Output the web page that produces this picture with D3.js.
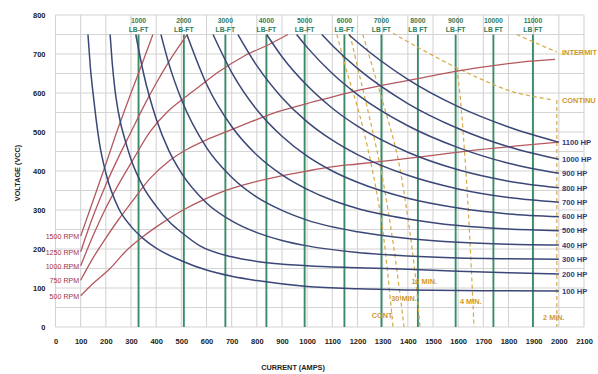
<!DOCTYPE html>
<html><head><meta charset="utf-8">
<script src="https://cdn.jsdelivr.net/npm/d3@7"></script>
<style>
body{margin:0;background:#fff;}
svg{display:block;overflow:hidden;}
text{font-family:"Liberation Sans",Arial,sans-serif;}
</style></head><body>
<svg id="c" width="598" height="374"></svg>
<script>
// ---------- data ----------
const xTicks = [0,100,200,300,400,500,600,700,800,900,1000,1100,1200,1300,1400,1500,1600,1700,1800,1900,2000,2100];
const yTicks = [0,100,200,300,400,500,600,700,800];

const torqueLabels = ["1000","2000","3000","4000","5000","6000","7000","8000","9000","10000","11000"];
const torqueUnits  = ["LB-FT","LB-FT","LB-FT","LB-FT","LB-FT","LB-FT","LB FT","LB FT","LB-FT","LB FT","LB FT"];
const torqueAmps   = [330,510,675,838,990,1148,1295,1440,1590,1740,1897];

const hpLabels = ["100 HP","200 HP","300 HP","400 HP","500 HP","600 HP","700 HP","800 HP","900 HP","1000 HP","1100 HP"];
const hp100  = [[129,750],[138,670],[150,595],[175,470],[200,395],[250,305],[300,258],[350,226],[400,202],[500,170],[600,146],[700,130],[800,119],[1000,104],[1200,98],[1400,95],[1700,93],[2000,92]];
const hp200  = [[217,750],[225,680],[236,610],[250,550],[283,465],[300,430],[348,360],[400,310],[455,268],[500,243],[574,208],[700,180],[800,168],[1000,157],[1200,152],[1400,148],[1600,143],[1800,139],[2000,136]];
const hp300  = [[319,750],[350,650],[400,534],[450,453],[500,395],[600,318],[700,272],[800,242],[900,222],[1000,208],[1200,191],[1400,182],[1600,177],[1800,175],[2000,174]];
const hp400  = [[419,750],[450,676],[500,584],[600,460],[700,384],[800,333],[900,299],[1000,274],[1200,244],[1400,227],[1600,217],[1800,212],[2000,210]];
const hp500  = [[522,750],[600,623],[700,514],[800,441],[900,390],[1000,353],[1100,325],[1200,304],[1400,277],[1600,260],[1800,251],[2000,247]];
const hp600  = [[626,750],[700,653],[800,557],[900,489],[1000,438],[1100,400],[1200,371],[1400,330],[1600,305],[1800,290],[2000,283]];
const hp700  = [[725,750],[800,670],[900,588],[1000,526],[1100,479],[1200,442],[1400,389],[1600,354],[1800,332],[2000,320]];
const hp800  = [[839,750],[900,693],[1000,619],[1100,561],[1200,515],[1400,448],[1600,403],[1800,374],[2000,357]];
const hp900  = [[958,750],[1000,717],[1100,650],[1200,596],[1400,516],[1600,460],[1800,420],[2000,394]];
const hp1000 = [[1058,750],[1100,722],[1200,663],[1400,573],[1600,509],[1800,462],[2000,430]];
const hp1100 = [[1165,750],[1200,730],[1400,635],[1600,565],[1800,513],[2000,474]];
const hpCurves = [hp100,hp200,hp300,hp400,hp500,hp600,hp700,hp800,hp900,hp1000,hp1100];

const rpmLabels = ["1500 RPM","1250 RPM","1000 RPM","750 RPM","500 RPM"];
const rpm1500 = [[100,233],[150,325],[200,418],[250,512],[300,600],[350,685],[387,750]];
const rpm1250 = [[100,193],[150,285],[200,365],[250,435],[300,500],[350,565],[400,625],[450,680],[523,750]];
const rpm1000 = [[100,157],[150,235],[200,305],[250,365],[300,420],[376,501],[450,555],[507,585],[574,618],[650,655],[750,695],[850,725],[924,750]];
const rpm750  = [[100,120],[150,178],[200,228],[250,275],[300,318],[376,381],[450,425],[521,455],[600,480],[680,501],[780,527],[864,548],[1000,573],[1090,588],[1190,605],[1300,620],[1409,633],[1600,657],[1726,669],[1850,679],[1985,686]];
const rpm500  = [[100,80],[150,112],[217,150],[280,195],[348,232],[420,265],[507,300],[600,330],[680,351],[780,370],[879,385],[1000,400],[1090,410],[1200,418],[1341,428],[1500,440],[1686,455],[1845,465],[2000,474]];
const rpmCurves = [rpm1500,rpm1250,rpm1000,rpm750,rpm500];

const dutyLabels = ["CONT.","30 MIN.","12 MIN.","4 MIN.","2 MIN."];
const dutyCont  = [[1118,750],[1160,650],[1210,540],[1260,400],[1300,250],[1341,0]];
const duty30    = [[1170,750],[1210,640],[1250,531],[1300,380],[1345,200],[1385,0]];
const duty12    = [[1221,750],[1290,600],[1356,446],[1400,280],[1430,130],[1448,0]];
const duty4     = [[1595,664],[1608,591],[1633,377],[1650,180],[1663,0]];
const duty2     = [[1992,582],[1992,0]];
const dutyLines = [dutyCont,duty30,duty12,duty4,duty2];
const dutyLabelPos = [[1300,30],[1385,72],[1465,117],[1650,65],[1980,25]];

const envLabels = ["INTERMIT","CONTINU"];
const envIntermittent = [[1833,750],[1920,725],[1992,705]];
const envContinuous   = [[1341,753],[1437,718],[1596,664],[1700,633],[1818,603],[1977,582]];

// ---------- drawing ----------
const svg = d3.select("#c");
const x = d3.scaleLinear().domain([0,2100]).range([55.5,584]);
const y = d3.scaleLinear().domain([0,800]).range([327,15]);

const NAVY="#3b4777", RED="#b4585f", GREEN="#3a8c68", GOLD="#d6aa45";

// grid
const grid = svg.append("g");
grid.selectAll("line.h").data(d3.range(0,801,50)).join("line")
  .attr("x1",x(0)).attr("x2",x(2100)).attr("y1",d=>y(d)).attr("y2",d=>y(d))
  .attr("stroke","#d4d4d4").attr("stroke-width",1.1);
grid.selectAll("line.v").data(xTicks).join("line")
  .attr("x1",d=>x(d)).attr("x2",d=>x(d)).attr("y1",y(0)).attr("y2",y(800))
  .attr("stroke","#d4d4d4").attr("stroke-width",1.1);

// axes
const ax = svg.append("g").attr("transform",`translate(0,${y(0)})`)
  .call(d3.axisBottom(x).tickValues(xTicks).tickSize(0).tickPadding(12).tickFormat(d3.format("d")));
const ay = svg.append("g").attr("transform",`translate(${x(0)},0)`)
  .call(d3.axisLeft(y).tickValues(yTicks).tickSize(0).tickPadding(10).tickFormat(d3.format("d")));
[ax,ay].forEach(g=>{
  g.select(".domain").remove();
  g.selectAll("text").attr("font-size",7.5).attr("font-weight","bold").attr("fill","#222")
   .attr("font-family","'Liberation Sans',Arial,sans-serif");
});

svg.append("text").attr("x",293).attr("y",370).attr("text-anchor","middle")
  .attr("font-size",7.3).attr("font-weight","bold").attr("fill","#222").text("CURRENT (AMPS)");
svg.append("text").attr("transform","translate(20,173) rotate(-90)").attr("text-anchor","middle")
  .attr("font-size",7.3).attr("font-weight","bold").attr("fill","#222").text("VOLTAGE (VCC)");

const line = d3.line().x(d=>x(d[0])).y(d=>y(d[1])).curve(d3.curveMonotoneX);
const lineC = d3.line().x(d=>x(d[0])).y(d=>y(d[1])).curve(d3.curveCatmullRom);

// torque lines
svg.selectAll("line.tq").data(torqueAmps).join("line")
  .attr("x1",d=>x(d)).attr("x2",d=>x(d)).attr("y1",y(0)).attr("y2",y(750))
  .attr("stroke",GREEN).attr("stroke-width",1.9);
svg.selectAll("text.tq1").data(torqueAmps).join("text")
  .attr("x",d=>x(d)).attr("y",23.3).attr("text-anchor","middle")
  .attr("font-size",6.8).attr("font-weight","bold").attr("fill","#2f7d5c")
  .text((d,i)=>torqueLabels[i]);
svg.selectAll("text.tq2").data(torqueAmps).join("text")
  .attr("x",d=>x(d)).attr("y",31.8).attr("text-anchor","middle")
  .attr("font-size",6.8).attr("font-weight","bold").attr("fill","#2f7d5c")
  .text((d,i)=>torqueUnits[i]);

// duty (gold dashed)
svg.selectAll("path.duty").data(dutyLines).join("path")
  .attr("d",lineC).attr("fill","none").attr("stroke",GOLD).attr("stroke-width",1.2)
  .attr("stroke-dasharray","4,3");
svg.append("path").attr("d",lineC(envIntermittent)).attr("fill","none").attr("stroke",GOLD)
  .attr("stroke-width",1.2).attr("stroke-dasharray","4,3");
svg.append("path").attr("d",lineC(envContinuous)).attr("fill","none").attr("stroke",GOLD)
  .attr("stroke-width",1.2).attr("stroke-dasharray","4,3");
svg.selectAll("text.duty").data(dutyLabelPos).join("text")
  .attr("x",d=>x(d[0])).attr("y",d=>y(d[1])+2.5).attr("text-anchor","middle")
  .attr("font-size",7.3).attr("font-weight","bold").attr("fill","#d09a2a")
  .text((d,i)=>dutyLabels[i]);
svg.append("text").attr("x",562).attr("y",y(705)+2.5).attr("font-size",7.4).attr("font-weight","bold")
  .attr("fill","#d09a2a").text(envLabels[0]);
svg.append("text").attr("x",562).attr("y",y(582)+2.5).attr("font-size",7.4).attr("font-weight","bold")
  .attr("fill","#d09a2a").text(envLabels[1]);

// rpm curves
svg.selectAll("path.rpm").data(rpmCurves).join("path")
  .attr("d",line).attr("fill","none").attr("stroke",RED).attr("stroke-width",1.3);
svg.selectAll("text.rpm").data(rpmCurves).join("text")
  .attr("x",d=>x(d[0][0])-1.5).attr("y",d=>y(d[0][1])+2.8).attr("text-anchor","end")
  .attr("font-size",7.1).attr("fill","#a8323e")
  .text((d,i)=>rpmLabels[i]);

// hp curves
svg.selectAll("path.hp").data(hpCurves).join("path")
  .attr("d",line).attr("fill","none").attr("stroke",NAVY).attr("stroke-width",1.5);
svg.selectAll("text.hp").data(hpCurves).join("text")
  .attr("x",562).attr("y",d=>y(d[d.length-1][1])+2.8)
  .attr("font-size",7.6).attr("font-weight","bold").attr("fill","#2c3a7e")
  .text((d,i)=>hpLabels[i]);
</script>
</body></html>
